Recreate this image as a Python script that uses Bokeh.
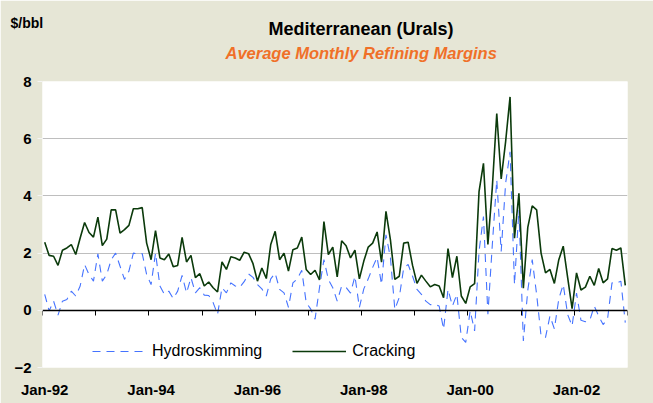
import numpy as np
import pandas as pd
from bokeh.plotting import figure
from bokeh.models import (Range1d, LinearAxis, FixedTicker, Legend, LegendItem, Title)
from bokeh.embed import file_html
from bokeh.resources import INLINE

# ---------------- data ----------------
months = pd.date_range("1992-01-01", periods=132, freq="MS")

cracking = [
    2.38, 1.92, 1.89, 1.57, 2.10, 2.18, 2.30, 1.95, 2.53, 3.07, 2.72, 2.56,
    3.26, 2.26, 2.49, 3.51, 3.51, 2.70, 2.82, 2.97, 3.55, 3.55, 3.59, 2.35,
    1.77, 2.79, 1.83, 1.77, 1.97, 1.52, 1.57, 2.55, 1.69, 1.92, 1.14, 1.28,
    0.85, 0.99, 0.79, 0.64, 1.69, 1.43, 1.87, 1.83, 1.75, 2.03, 1.98, 1.63,
    1.02, 1.48, 1.11, 2.30, 2.76, 1.77, 2.00, 1.37, 2.12, 2.18, 2.56, 1.43,
    1.25, 1.40, 1.06, 3.10, 1.95, 2.21, 1.17, 2.43, 2.26, 1.83, 2.10, 1.10,
    1.72, 2.21, 2.35, 2.74, 1.68, 3.46, 2.47, 1.08, 1.19, 2.35, 2.38, 1.57,
    0.94, 1.23, 1.02, 0.82, 0.90, 0.85, 0.44, 2.16, 1.14, 1.89, 0.50, 0.24,
    0.82, 0.93, 4.15, 5.14, 2.30, 4.30, 6.88, 4.59, 5.90, 7.46, 2.52, 4.09,
    0.77, 2.90, 3.65, 3.51, 2.00, 1.31, 1.43, 0.94, 1.77, 2.24, 1.14, 0.06,
    1.31, 0.71, 0.81, 1.19, 0.87, 1.46, 0.96, 1.10, 2.16, 2.10, 2.18, 0.87,
]

hydroskimming = [
    0.56, -0.02, 0.32, -0.17, 0.32, 0.38, 0.67, 0.50, 0.85, 1.60, 1.25, 1.02,
    1.97, 1.02, 1.25, 1.77, 2.00, 1.54, 1.08, 1.37, 2.00, 1.97, 1.98, 1.25,
    0.90, 2.00, 0.85, 0.56, 0.67, 0.41, 0.67, 1.22, 0.61, 1.14, 0.61, 0.79,
    0.53, 0.52, 0.27, -0.14, 0.79, 0.61, 0.96, 0.85, 0.80, 1.00, 1.27, 1.15,
    0.90, 0.75, 0.50, 1.10, 1.30, 0.73, 0.61, 0.10, 0.96, 1.10, 1.40, 0.27,
    0.05, -0.31, 0.79, 1.77, 1.08, 0.79, 0.32, 0.85, 0.80, 0.60, 1.19, 0.10,
    0.75, 1.10, 1.50, 1.85, 0.90, 2.64, 1.85, 0.03, 0.45, 1.48, 1.60, 1.19,
    0.73, 0.56, 0.32, 0.20, 0.20, 0.15, -0.66, 0.73, 0.15, 0.56, -0.95, -1.12,
    -0.02, -0.72, 2.06, 3.28, -0.14, 2.30, 4.56, 2.06, 4.44, 5.54, 0.90, 3.51,
    -1.07, 0.70, 1.77, 0.55, -0.90, -0.95, -0.20, -0.65, 0.40, 0.90, -0.15, -0.55,
    0.60, -0.35, -0.40, -0.35, 0.15, -0.20, -0.50, -0.30, 0.96, 0.94, 1.02, -0.43,
]

y_ticks = [-2, 0, 2, 4, 6, 8]
x_tick_labels = ["Jan-92", "Jan-94", "Jan-96", "Jan-98", "Jan-00", "Jan-02"]

# category positions: each month occupies one unit, points at centres
n = len(months)
xpos = np.arange(n) + 0.5
year_bounds = [float(i) for i in range(0, n + 1, 12)]
label_pos = [float(i) + 0.5 for i in range(0, n, 24)]

FONT = "Liberation Sans"
BG = "#E6E6D6"

p = figure(width=653, height=403, output_backend="svg", toolbar_location=None,
           title=None, x_range=Range1d(0, n), y_range=Range1d(-2, 8),
           min_border_left=42, min_border_right=26,
           min_border_top=81, min_border_bottom=36)
p.background_fill_color = "white"
p.border_fill_color = BG
p.outline_line_color = None
p.xgrid.visible = False

# bottom axis: only the year labels
xax = p.xaxis[0]
xax.ticker = FixedTicker(ticks=label_pos)
xax.major_label_overrides = {lp: lab for lp, lab in zip(label_pos, x_tick_labels)}
xax.axis_line_color = None
xax.major_tick_line_color = None
xax.major_tick_out = 0
xax.major_tick_in = 0
xax.minor_tick_line_color = None
xax.major_label_standoff = 13
xax.major_label_text_font = FONT
xax.major_label_text_font_style = "bold"
xax.major_label_text_font_size = "15px"
xax.major_label_text_color = "black"

# y axis
yax = p.yaxis[0]
yax.ticker = FixedTicker(ticks=y_ticks)
yax.axis_line_color = None
yax.major_tick_line_color = "#F4F4F4"
yax.major_tick_out = 5
yax.major_tick_in = 0
yax.minor_tick_line_color = None
yax.major_label_standoff = 6
yax.major_label_text_font = FONT
yax.major_label_text_font_style = "bold"
yax.major_label_text_font_size = "15px"
yax.major_label_text_color = "black"

p.ygrid.ticker = FixedTicker(ticks=y_ticks)
p.ygrid.grid_line_color = "#BEBEBE"
p.ygrid.grid_line_width = 1

# data lines
r_h = p.line(xpos, hydroskimming, line_color="#4573FF", line_width=1.1,
             line_dash="8 6")
r_c = p.line(xpos, cracking, line_color="#0B3A0B", line_width=1.6)

# zero axis with yearly tick marks (no labels)
zax = LinearAxis(fixed_location=0, ticker=FixedTicker(ticks=year_bounds))
zax.axis_line_color = "black"
zax.axis_line_width = 1.5
zax.major_tick_line_color = "black"
zax.major_tick_out = 5
zax.major_tick_in = 0
zax.minor_tick_line_color = None
zax.major_label_text_color = None
p.add_layout(zax, "below")

# legend
legend = Legend(items=[LegendItem(label="Hydroskimming", renderers=[r_h]),
                       LegendItem(label="Cracking", renderers=[r_c])],
                orientation="horizontal", location=(50, 6))
legend.background_fill_alpha = 0
legend.border_line_color = None
legend.padding = 0
legend.margin = 0
legend.spacing = 30
legend.glyph_width = 54
legend.glyph_height = 20
legend.label_standoff = 6
legend.label_text_font = FONT
legend.label_text_font_size = "16px"
legend.label_text_color = "black"
p.add_layout(legend)

# titles (first added sits closest to the plot)
p.add_layout(Title(text="Average Monthly Refining Margins", align="left",
                   offset=183, standoff=40, text_font=FONT,
                   text_font_style="bold italic", text_font_size="16.5px",
                   text_color="#F07028"), "above")
p.add_layout(Title(text="Mediterranean (Urals)", align="left",
                   offset=226, standoff=-35, text_font=FONT,
                   text_font_style="bold", text_font_size="18px",
                   text_color="black"), "above")
p.add_layout(Title(text="$/bbl", align="left",
                   offset=-32, standoff=-19, text_font=FONT,
                   text_font_style="bold", text_font_size="14px",
                   text_color="black"), "above")

open("out.html", "w").write(file_html(p, INLINE))
